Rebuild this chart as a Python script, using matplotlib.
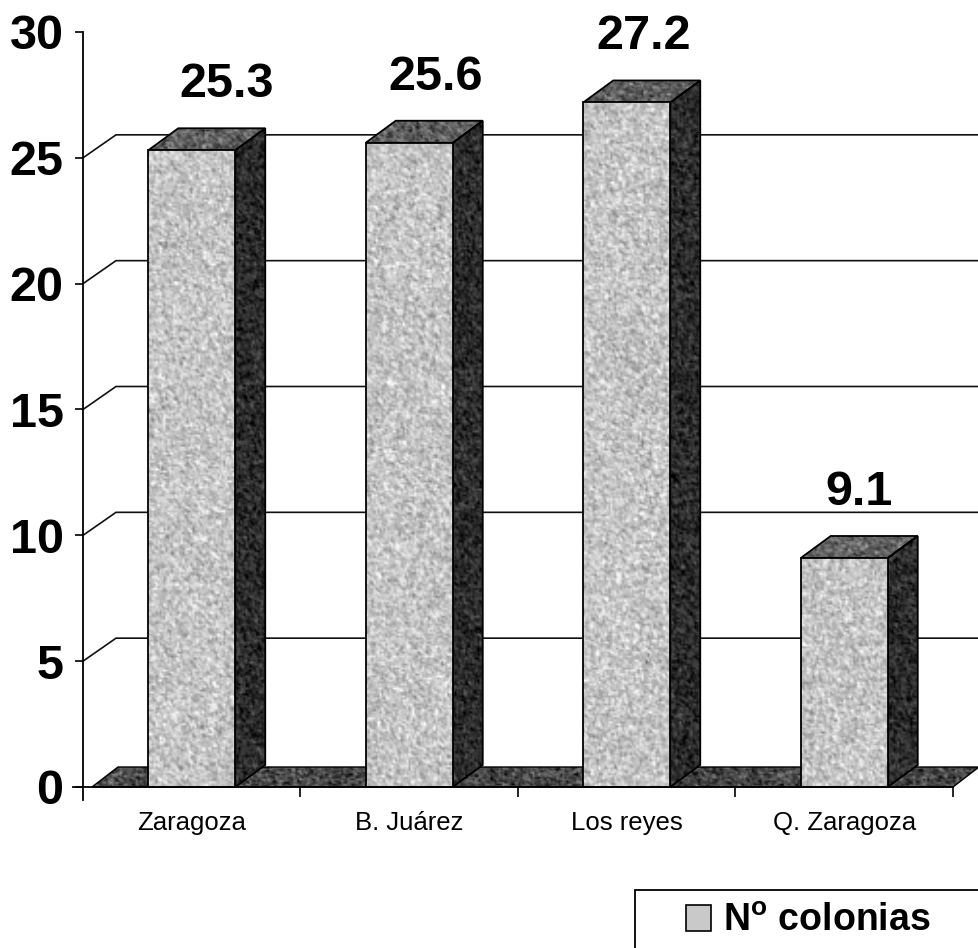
import numpy as np
import matplotlib
matplotlib.use("Agg")
import matplotlib.pyplot as plt
from matplotlib.patches import Polygon, Rectangle, Patch

# ---- data ----
categories = ["Zaragoza", "B. Juárez", "Los reyes", "Q. Zaragoza"]
colonias = [25.3, 25.6, 27.2, 9.1]
y_ticks = [0, 5, 10, 15, 20, 25, 30]
series_name = r"N$^{\mathbf{o}}$ colonias"

# ---- layout (pixels) ----
W, H, DPI = 979, 948, 100
X0_PX, X1_PX = 83, 953          # front plane, left / right
Y0_PX, YTOP_PX = 787, 32        # value 0 and value 30 (from top)
YMAX = 30
BAR_W = 0.40                    # bar width in category units
BAR_DEPTH_PX = (30, 22)         # 3-D depth of bars
WALL_DEPTH_PX = (33, 23)        # depth of the back wall gridlines
FLOOR_DEPTH_PX = (26, 20)
label_dx_px = [35, 26, 17, 15]  # horizontal nudge of the value labels
LABEL_RISE_PX = 53

plt.rcParams["font.family"] = ["Liberation Sans", "DejaVu Sans"]
plt.rcParams["mathtext.fontset"] = "custom"
plt.rcParams["mathtext.bf"] = "Liberation Sans:bold"
plt.rcParams["mathtext.rm"] = "Liberation Sans"

fig = plt.figure(figsize=(W / DPI, H / DPI), dpi=DPI)
ax = fig.add_axes([0, 0, 1, 1])

px_x = (X1_PX - X0_PX) / len(categories)
px_y = (Y0_PX - YTOP_PX) / YMAX
def dx(p):
    return p / px_x
def dy(p):
    return p / px_y

xlim = (-X0_PX / px_x, (W - X0_PX) / px_x)
ylim = (-(H - Y0_PX) / px_y, Y0_PX / px_y)

rng = np.random.default_rng(11)

def textured(xy, base, spread, zorder, lw=1.3):
    """Polygon filled with a grainy gray texture and a black outline."""
    poly = Polygon(xy, closed=True, facecolor="none", edgecolor="black",
                   lw=lw, zorder=zorder + 0.1, joinstyle="miter")
    ax.add_patch(poly)
    xs = [p[0] for p in xy]
    ys = [p[1] for p in xy]
    x0, x1, y0, y1 = min(xs), max(xs), min(ys), max(ys)
    nw = max(2, int((x1 - x0) * px_x / 2) + 2)
    nh = max(2, int((y1 - y0) * px_y / 2) + 2)
    g = rng.standard_normal((nh, nw))
    g = (g + 0.6 * np.roll(g, 1, axis=0) + 0.6 * np.roll(g, 1, axis=1)) / 1.5
    img = np.clip(base + spread * g, 0, 1)
    im = ax.imshow(img, cmap="gray", vmin=0, vmax=1, extent=(x0, x1, y0, y1),
                   origin="lower", interpolation="bilinear", zorder=zorder,
                   aspect="auto")
    im.set_clip_path(poly)
    return poly

# ---- back wall gridlines ----
wdx, wdy = dx(WALL_DEPTH_PX[0]), dy(WALL_DEPTH_PX[1])
for v in y_ticks[1:-1]:
    ax.plot([0, wdx, xlim[1]], [v, v + wdy, v + wdy], color="#111111",
            lw=1.2, zorder=1, solid_joinstyle="miter")

# ---- floor ----
fdx, fdy = dx(FLOOR_DEPTH_PX[0]), dy(FLOOR_DEPTH_PX[1])
fx0 = dx(9)
n = len(categories)
textured([(fx0, 0), (n, 0), (n + fdx, fdy), (fx0 + fdx, fdy)], 0.28, 0.11, 2, lw=1.0)

# ---- bars ----
bdx, bdy = dx(BAR_DEPTH_PX[0]), dy(BAR_DEPTH_PX[1])
for i, (cat, val) in enumerate(zip(categories, colonias)):
    xl = i + 0.5 - BAR_W / 2
    xr = i + 0.5 + BAR_W / 2
    z = 3 + i
    # side face
    textured([(xr, 0), (xr + bdx, bdy), (xr + bdx, val + bdy), (xr, val)], 0.17, 0.08, z)
    # top face
    textured([(xl, val), (xr, val), (xr + bdx, val + bdy), (xl + bdx, val + bdy)], 0.38, 0.10, z)
    # front face
    textured([(xl, 0), (xr, 0), (xr, val), (xl, val)], 0.77, 0.09, z + 0.2)
    # value label
    ax.annotate(f"{val:.1f}", xy=(i + 0.5, val), xycoords="data",
                xytext=(label_dx_px[i] * 72 / DPI, LABEL_RISE_PX * 72 / DPI),
                textcoords="offset points", ha="center", va="baseline",
                fontsize=35, fontweight="bold", color="black", zorder=20)

# ---- axes lines and ticks ----
for s in ("top", "right"):
    ax.spines[s].set_visible(False)
ax.spines["left"].set_position(("data", 0))
ax.spines["bottom"].set_position(("data", 0))
ax.spines["left"].set_bounds(-dy(13), YMAX)
ax.spines["bottom"].set_bounds(-dx(10), n)
for s in ("left", "bottom"):
    ax.spines[s].set_linewidth(1.3)
    ax.spines[s].set_zorder(15)

ax.set_yticks(y_ticks)
ax.set_yticklabels([str(t) for t in y_ticks])
ax.tick_params(axis="y", direction="out", length=6, width=1.2, pad=8,
               labelsize=35)
for lab in ax.get_yticklabels():
    lab.set_fontweight("bold")

ax.set_xticks(list(range(1, n + 1)))
ax.set_xticklabels([])
ax.tick_params(axis="x", which="major", direction="out", length=7, width=1.2)
ax.set_xticks([i + 0.5 for i in range(n)], minor=True)
ax.set_xticklabels(categories, minor=True)
ax.tick_params(axis="x", which="minor", length=0, pad=17.5, labelsize=18.5)

ax.set_xlim(*xlim)
ax.set_ylim(*ylim)
ax.patch.set_visible(False)

# ---- legend ----
frame = Rectangle((635 / W, 1 - 1010 / H), (1010 - 635) / W, (1010 - 890) / H,
                  transform=fig.transFigure, fill=False, edgecolor="black", lw=1.3)
fig.add_artist(frame)
handle = Patch(facecolor="#c9c9c9", edgecolor="black", lw=1.2)
fig.legend([handle], [series_name], loc="center left",
           bbox_to_anchor=(686 / W, 1 - 921 / H), bbox_transform=fig.transFigure,
           frameon=False, borderpad=0, borderaxespad=0,
           handlelength=0.68, handleheight=0.68, handletextpad=0.3,
           prop={"weight": "bold", "size": 27})

fig.savefig("out.png", dpi=DPI)
